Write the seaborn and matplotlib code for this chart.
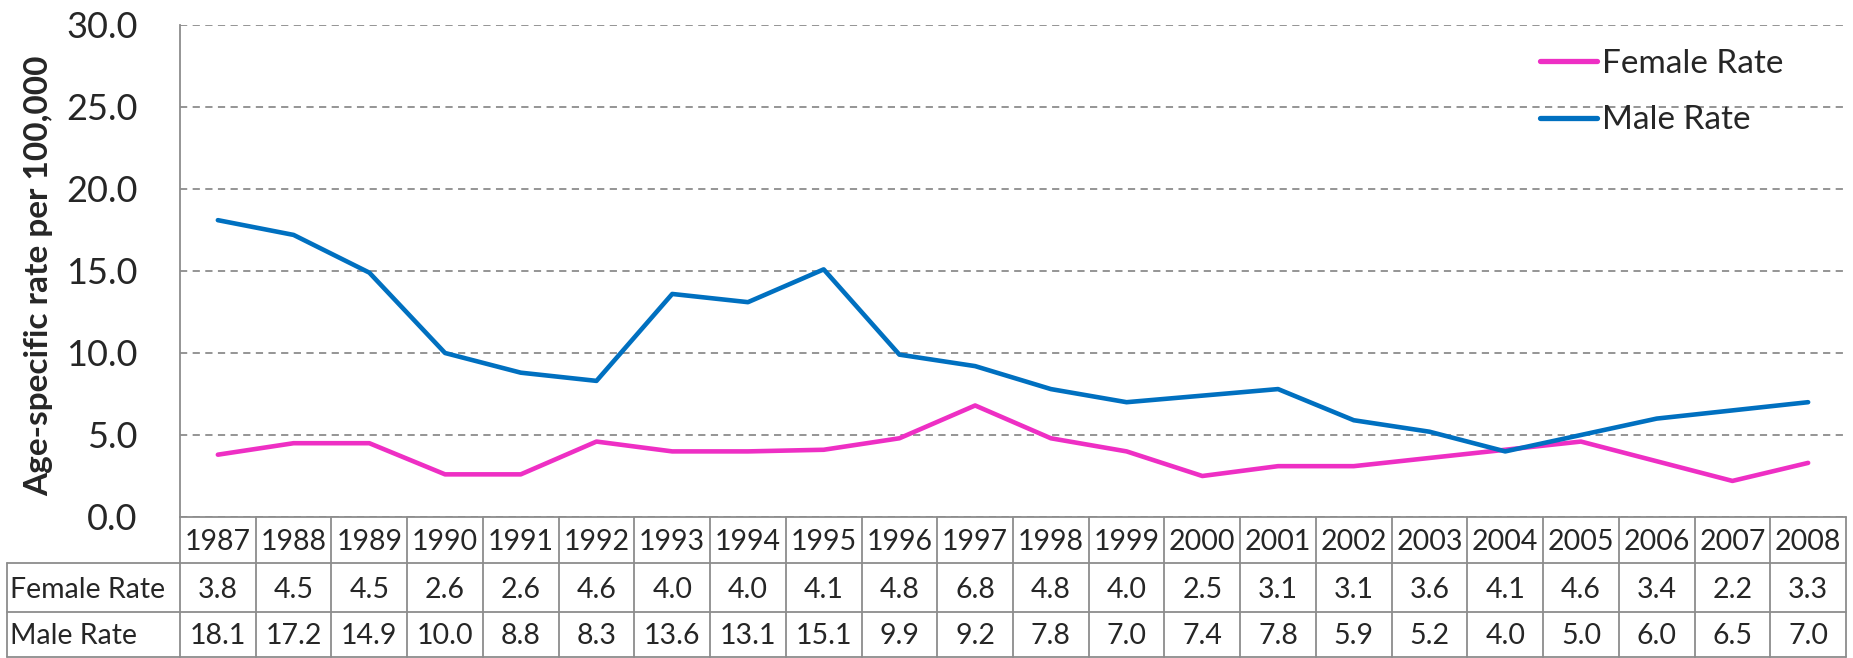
import matplotlib
matplotlib.use("Agg")
import matplotlib.pyplot as plt
import seaborn as sns
import pandas as pd
import numpy as np

years = ["1987", "1988", "1989", "1990", "1991", "1992", "1993", "1994", "1995", "1996", "1997",
         "1998", "1999", "2000", "2001", "2002", "2003", "2004", "2005", "2006", "2007", "2008"]
female_rate = [3.8, 4.5, 4.5, 2.6, 2.6, 4.6, 4.0, 4.0, 4.1, 4.8, 6.8,
               4.8, 4.0, 2.5, 3.1, 3.1, 3.6, 4.1, 4.6, 3.4, 2.2, 3.3]
male_rate = [18.1, 17.2, 14.9, 10.0, 8.8, 8.3, 13.6, 13.1, 15.1, 9.9, 9.2,
             7.8, 7.0, 7.4, 7.8, 5.9, 5.2, 4.0, 5.0, 6.0, 6.5, 7.0]
series_names = ["Female Rate", "Male Rate"]
y_ticks = [0.0, 5.0, 10.0, 15.0, 20.0, 25.0, 30.0]

sns.set_style("white")
plt.rcParams["font.family"] = ["Lato", "DejaVu Sans"]

W, H = 1853, 658
fig = plt.figure(figsize=(W / 100, H / 100), dpi=100)
left, right, top, bottom = 180, 1846, 25, 517
ax = fig.add_axes([left / W, 1 - bottom / H, (right - left) / W, (bottom - top) / H])

n = len(years)
df = pd.DataFrame({
    "idx": list(range(n)) * 2,
    "rate": female_rate + male_rate,
    "series": [series_names[0]] * n + [series_names[1]] * n,
})
palette = {"Female Rate": "#EE2FC4", "Male Rate": "#0070C0"}
sns.lineplot(data=df, x="idx", y="rate", hue="series", palette=palette, lw=3.3,
             ax=ax, legend=True)

ax.set_xlim(-0.5, n - 0.5)
ax.set_ylim(0, 30)
ax.set_yticks(y_ticks)
ax.set_yticklabels([f"{v:.1f}" for v in y_ticks], fontsize=26)
ax.set_xticks([])
ax.set_xlabel("")
ax.set_ylabel("Age-specific rate per 100,000", fontsize=24, fontweight="bold")
ax.yaxis.set_label_coords(-0.076, 0.49)
ax.tick_params(axis="y", direction="out", length=9.5, width=1.2, color="#8c8c8c", pad=21)
ax.yaxis.grid(True, linestyle=(0, (4, 3)), color="#8c8c8c", lw=1.3)
for s in ["top", "right", "bottom"]:
    ax.spines[s].set_visible(False)
ax.spines["left"].set_color("#8c8c8c")
ax.spines["left"].set_linewidth(1.3)

leg = ax.legend(loc="center left", bbox_to_anchor=((1540 - left) / (right - left), (bottom - 92) / (bottom - top)),
                frameon=False, fontsize=24, borderaxespad=0, borderpad=0,
                handlelength=1.7, handletextpad=0.15, labelspacing=0.8)
for h in leg.get_lines():
    h.set_linewidth(3.8)

# data table below the axes
tab = fig.add_axes([0, 0, 1, 1])
tab.set_xlim(0, W)
tab.set_ylim(H, 0)
tab.axis("off")
colw = (right - left) / n
rows_y = [bottom, 563, 612, H - 1]
lc = "#8c8c8c"
lw = 1.3
tab.plot([left, right], [rows_y[0], rows_y[0]], color=lc, lw=lw)
for yy in rows_y[1:]:
    tab.plot([7, right], [yy, yy], color=lc, lw=lw)
tab.plot([7, 7], [rows_y[1], rows_y[3]], color=lc, lw=lw)
for i in range(n + 1):
    x = left + i * colw
    tab.plot([x, x], [rows_y[0], rows_y[3]], color=lc, lw=lw)
fs = 20.5
for i in range(n):
    cx = left + (i + 0.5) * colw
    tab.text(cx, (rows_y[0] + rows_y[1]) / 2 + 2, years[i], ha="center", va="center", fontsize=fs)
    tab.text(cx, (rows_y[1] + rows_y[2]) / 2 + 2, f"{female_rate[i]:.1f}", ha="center", va="center", fontsize=fs)
    tab.text(cx, (rows_y[2] + rows_y[3]) / 2 + 2, f"{male_rate[i]:.1f}", ha="center", va="center", fontsize=fs)
tab.text(10, (rows_y[1] + rows_y[2]) / 2 + 2, series_names[0], ha="left", va="center", fontsize=fs)
tab.text(10, (rows_y[2] + rows_y[3]) / 2 + 2, series_names[1], ha="left", va="center", fontsize=fs)

fig.savefig("out.png", dpi=100)
